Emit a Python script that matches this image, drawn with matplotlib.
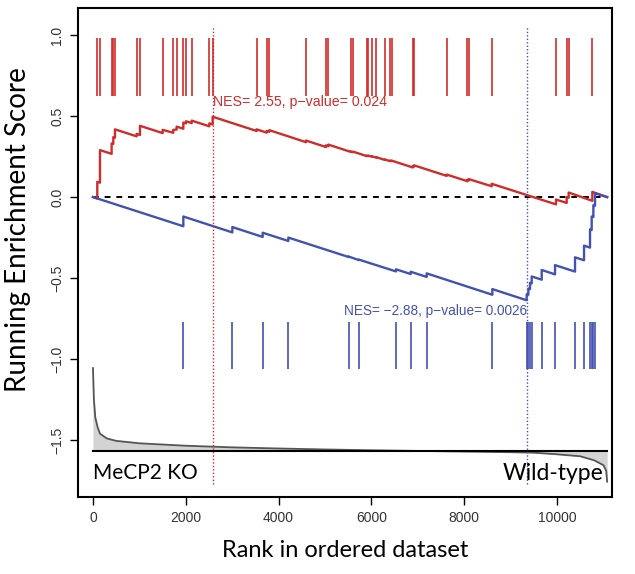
import matplotlib
matplotlib.use("Agg")
import matplotlib.pyplot as plt
import numpy as np

# ranks of the two gene sets (hits) in the ordered list
red_hits = [93, 151, 402, 438, 474, 941, 1013, 1501, 1731, 1803, 1947, 2004, 2127,
            2507, 2579, 3527, 3743, 3800, 4591, 5021, 5072, 5553, 5610, 5898, 5934,
            6020, 6099, 6293, 6401, 6437, 6890, 6918, 7622, 8067, 8096, 8592, 9978,
            10208, 10251, 10761]
# running ES just before / just after each red hit
red_lo = [-0.009, 0.089, 0.267, 0.328, 0.367, 0.375, 0.383, 0.395, 0.397, 0.417, 0.422,
          0.455, 0.457, 0.437, 0.448, 0.408, 0.398, 0.403, 0.339, 0.309, 0.314, 0.279,
          0.277, 0.253, 0.253, 0.248, 0.244, 0.229, 0.222, 0.222, 0.183, 0.188, 0.131,
          0.098, 0.103, 0.067, -0.045, -0.036, -0.004, -0.023]
red_hi = [0.094, 0.29, 0.331, 0.37, 0.418, 0.39, 0.44, 0.415, 0.415, 0.435, 0.46,
          0.468, 0.472, 0.455, 0.496, 0.418, 0.408, 0.413, 0.349, 0.319, 0.324, 0.282,
          0.28, 0.256, 0.256, 0.251, 0.247, 0.232, 0.225, 0.225, 0.191, 0.196, 0.139,
          0.106, 0.111, 0.082, -0.015, 0.0, 0.028, 0.032]

blue_hits = [1947, 3003, 3657, 4210, 5510, 5730, 6530, 6847, 7191, 8606, 9346, 9382,
             9418, 9454, 9670, 9957, 10388, 10582, 10711, 10747, 10783, 10819]
blue_lo = [-0.18, -0.218, -0.246, -0.271, -0.37, -0.389, -0.459, -0.475, -0.493, -0.603,
           -0.637, -0.603, -0.568, -0.533, -0.51, -0.477, -0.46, -0.39, -0.312, -0.203,
           -0.123, -0.053]
blue_hi = [-0.12, -0.185, -0.22, -0.25, -0.367, -0.386, -0.446, -0.461, -0.471, -0.568,
           -0.60, -0.565, -0.53, -0.49, -0.45, -0.42, -0.372, -0.30, -0.20, -0.12,
           -0.05, 0.023]

n_genes = 11080
red_peak = 2579
blue_peak = 9346

# ranked list metric (drawn on the shifted scale of the panel)
metric_rank = [0, 20, 50, 100, 150, 300, 500, 1000, 2000, 3000, 4000, 5000, 6000,
               7000, 8000, 9000, 9500, 10000, 10500, 10800, 11000, 11060, 11080]
metric_val = [-1.056, -1.25, -1.36, -1.42, -1.46, -1.49, -1.505, -1.52, -1.535, -1.545,
              -1.552, -1.558, -1.563, -1.567, -1.571, -1.575, -1.578, -1.588, -1.60,
              -1.625, -1.655, -1.69, -1.757]
metric_base = -1.565

red_text = "NES= 2.55, p\u2212value= 0.024"
blue_text = "NES= \u22122.88, p\u2212value= 0.0026"

RED = "#cf2c2c"
BLUE = "#4352b0"


def es_path(hits, lo, hi):
    xs, ys = [0], [0.0]
    for h, a, b in zip(hits, lo, hi):
        xs += [h, h]
        ys += [a, b]
    xs.append(n_genes)
    ys.append(0.0)
    return xs, ys


fig = plt.figure(figsize=(6.35, 5.74), dpi=100)
ax = fig.add_axes([0.1228, 0.134, 0.841, 0.852])

# ranked metric
ax.fill_between(metric_rank, metric_val, metric_base, color="#d3d3d3", lw=0)
ax.plot(metric_rank, metric_val, color="#555555", lw=1.3)
ax.plot([0, n_genes], [metric_base, metric_base], color="black", lw=1.5)

# hit ticks
ax.vlines(red_hits, 0.623, 0.98, color=RED, lw=1.2)
ax.vlines(blue_hits, -1.064, -0.77, color=BLUE, lw=1.2)

# zero line
ax.plot([0, n_genes], [0, 0], color="black", lw=1.4, ls=(0, (3, 3)))

# running ES curves
rx, ry = es_path(red_hits, red_lo, red_hi)
bx, by = es_path(blue_hits, blue_lo, blue_hi)
ax.plot(rx, ry, color=RED, lw=1.7)
ax.plot(bx, by, color=BLUE, lw=1.7)

# peak markers
ax.vlines([red_peak], -1.77, 1.05, color=RED, lw=1.0, ls=(0, (1, 1.5)))
ax.vlines([blue_peak], -1.77, 1.05, color=BLUE, lw=1.0, ls=(0, (1, 1.5)))

ax.text(red_peak, 0.585, red_text, color=RED, fontsize=10.2,
        family="Liberation Sans", ha="left", va="center")
ax.text(blue_peak, -0.704, blue_text, color=BLUE, fontsize=9.8,
        family="Liberation Sans", ha="right", va="center")

ax.text(0, -1.705, "MeCP2 KO", fontsize=15, family="Lato", ha="left", va="center")
ax.text(n_genes - 80, -1.705, "Wild-type", fontsize=16.5, family="Lato",
        ha="right", va="center")

ax.set_xlim(-323, 11185)
ax.set_ylim(-1.852, 1.167)
ax.set_xticks([0, 2000, 4000, 6000, 8000, 10000])
ax.set_yticks([-1.5, -1.0, -0.5, 0.0, 0.5, 1.0])
ax.set_yticklabels(["\u22121.5", "\u22121.0", "\u22120.5", "0.0", "0.5", "1.0"],
                   rotation=90, va="center")
for lab in ax.get_xticklabels() + ax.get_yticklabels():
    lab.set_family("Liberation Sans")
    lab.set_fontsize(10)
    lab.set_color("#333333")
ax.tick_params(length=6, width=1.0, direction="out", pad=4)
for sp in ax.spines.values():
    sp.set_linewidth(1.5)

ax.set_xlabel("Rank in ordered dataset", fontsize=17, family="Lato", labelpad=11)
ax.set_ylabel("Running Enrichment Score", fontsize=20, family="Lato")
ax.yaxis.set_label_coords(-0.088, 0.548)

fig.savefig("out.png", dpi=100)
